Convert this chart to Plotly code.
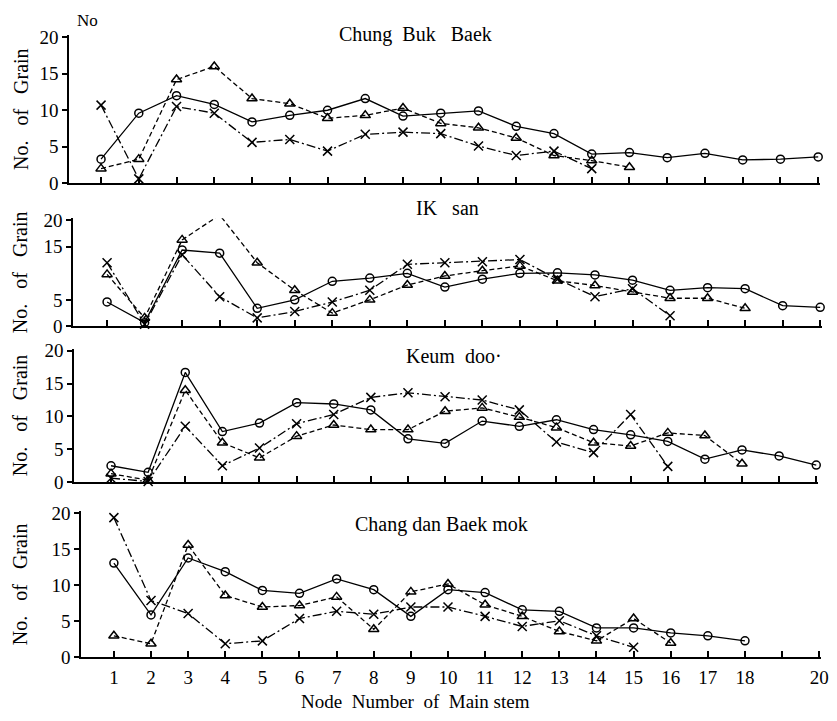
import plotly.graph_objects as go

nodes = list(range(1, 21))
NB = "\u00a0"
panel_titles = ["Chung" + NB * 2 + "Buk" + NB * 3 + "Baek", "IK" + NB * 3 + "san",
                "Keum" + NB * 2 + "doo·", "Chang dan Baek mok"]

# circles (solid), triangles (dashed), crosses (dash-dot)
cbb_circle = [3.3, 9.6, 12.0, 10.8, 8.4, 9.3, 10.0, 11.6, 9.2, 9.6, 9.9, 7.8, 6.8, 4.0, 4.2, 3.5, 4.1, 3.2, 3.3, 3.6]
cbb_tri = [2.0, 3.3, 14.2, 16.0, 11.6, 10.9, 8.9, 9.3, 10.3, 8.2, 7.6, 6.2, 3.8, 3.1, 2.2, None, None, None, None, None]
cbb_x = [10.7, 0.6, 10.5, 9.6, 5.6, 6.0, 4.4, 6.7, 7.0, 6.8, 5.1, 3.8, 4.4, 2.0, None, None, None, None, None, None]

iks_circle = [4.6, 0.7, 14.4, 13.8, 3.4, 5.0, 8.5, 9.1, 10.0, 7.4, 8.9, 10.0, 10.1, 9.7, 8.7, 6.8, 7.3, 7.1, 3.9, 3.6]
iks_tri = [9.8, 1.6, 16.3, 21.0, 12.0, 6.8, 2.5, 5.0, 7.8, 9.5, 10.5, 11.4, 8.6, 7.7, 6.5, 5.3, 5.3, 3.4, None, None]
iks_x = [12.0, 0.4, 13.5, 5.6, 1.6, 2.8, 4.6, 6.8, 11.7, 12.0, 12.2, 12.6, 8.9, 5.6, 7.1, 2.0, None, None, None, None]

kd_circle = [2.5, 1.5, 16.7, 7.7, 9.0, 12.1, 11.9, 11.0, 6.6, 5.9, 9.3, 8.5, 9.5, 8.0, 7.2, 6.2, 3.5, 4.9, 4.0, 2.6]
kd_tri = [1.3, 0.3, 14.0, 6.0, 3.7, 7.0, 8.7, 8.0, 8.0, 10.8, 11.3, 9.9, 8.3, 6.0, 5.5, 7.5, 7.1, 2.8, None, None]
kd_x = [0.6, 0.1, 8.5, 2.5, 5.2, 8.9, 10.3, 12.9, 13.6, 13.0, 12.5, 11.0, 6.1, 4.5, 10.3, 2.4, None, None, None, None]

cdb_circle = [13.1, 5.9, 13.8, 11.9, 9.3, 8.9, 10.9, 9.4, 5.7, 9.4, 9.0, 6.6, 6.4, 4.1, 4.1, 3.4, 3.0, 2.3, None, None]
cdb_tri = [3.0, 1.9, 15.6, 8.6, 7.0, 7.2, 8.4, 3.9, 9.1, 10.2, 7.3, 5.7, 3.6, 2.3, 5.4, 2.0, None, None, None, None]
cdb_x = [19.4, 7.9, 6.1, 1.9, 2.3, 5.4, 6.4, 6.0, 7.0, 7.0, 5.7, 4.3, 5.1, 3.0, 1.4, None, None, None, None, None]

panels = [
    (cbb_circle, cbb_tri, cbb_x),
    (iks_circle, iks_tri, iks_x),
    (kd_circle, kd_tri, kd_x),
    (cdb_circle, cdb_tri, cdb_x),
]
ytick_vals = [[0, 5, 10, 15, 20], [0, 5, 15, 20], [0, 5, 10, 15, 20], [0, 5, 10, 15, 20]]
x_tick_text = [str(n) for n in range(1, 19)] + ["", "20"]

W, H = 837, 721
# pixel geometry of each panel: (x_left, x_right, y_top, y_bottom, xmin, xmax, ymax)
geom = [
    (70, 828, 28, 180, 0.16, 20.05, 20.27),
    (74, 830, 216, 327, 0.10, 20.05, 20.37),
    (75, 826, 350, 487, 0.01, 20.05, 20.3),
    (82, 829, 517, 667, 0.12, 20.05, 20.27),
]

FONT = "Liberation Serif"
fig = go.Figure()
styles = [
    dict(symbol="circle-open", size=8, dash="solid"),
    dict(symbol="triangle-up-open", size=9, dash="5px,3px"),
    dict(symbol="x-thin-open", size=9, dash="9px,3px,2px,3px"),
]
for i, series in enumerate(panels):
    xa = "x" if i == 0 else f"x{i+1}"
    ya = "y" if i == 0 else f"y{i+1}"
    for vals, st in zip(series, styles):
        fig.add_trace(go.Scatter(
            x=nodes, y=vals, xaxis=xa, yaxis=ya, mode="lines+markers",
            line=dict(color="black", width=1.3, dash=st["dash"]),
            marker=dict(symbol=st["symbol"], size=st["size"], color="black",
                        line=dict(color="black", width=1.5)),
            cliponaxis=False, showlegend=False, connectgaps=False,
        ))

layout = dict(
    width=W, height=H, margin=dict(l=0, r=0, t=0, b=0),
    paper_bgcolor="white", plot_bgcolor="rgba(0,0,0,0)",
    font=dict(family=FONT, color="black", size=16),
)
ylab = "No." + NB * 3 + "of" + NB * 3 + "Grain"
annotations = []
for i, (xl, xr, yt, yb, xmin, xmax, ymax) in enumerate(geom):
    xk = "xaxis" if i == 0 else f"xaxis{i+1}"
    yk = "yaxis" if i == 0 else f"yaxis{i+1}"
    last = i == 3
    layout[xk] = dict(
        domain=[xl / W, xr / W], range=[xmin, xmax], anchor="y" if i == 0 else f"y{i+1}",
        showline=True, linecolor="black", linewidth=2, showgrid=False, zeroline=False,
        ticks="inside", ticklen=6, tickwidth=1.5, tickcolor="black",
        tickvals=nodes, ticktext=x_tick_text if last else [""] * 20,
        showticklabels=last, tickfont=dict(family=FONT, size=19),
        ticklabelstandoff=2, ticklabeloverflow="allow",
    )
    layout[yk] = dict(
        domain=[1 - yb / H, 1 - yt / H], range=[0, ymax], anchor="x" if i == 0 else f"x{i+1}",
        showline=True, linecolor="black", linewidth=2, showgrid=False, zeroline=False,
        ticks="outside", ticklen=5, tickwidth=1.5, tickcolor="black",
        tickvals=ytick_vals[i], tickfont=dict(family=FONT, size=19),
    )
    annotations.append(dict(
        x=21 / W, y=1 - (yt + yb) / 2 / H, xref="paper", yref="paper",
        xanchor="center", yanchor="middle",
        text=ylab, textangle=-90, showarrow=False,
        font=dict(family=FONT, size=20),
    ))

title_pos = [(420, 27), (452, 205), (458, 357), (446, 530)]
for t, (px, py) in zip(panel_titles, title_pos):
    annotations.append(dict(x=px / W, y=1 - py / H, xref="paper", yref="paper",
                            xanchor="center", yanchor="middle",
                            text=t, showarrow=False, font=dict(family=FONT, size=20)))
annotations.append(dict(x=88 / W, y=1 - 13 / H, xref="paper", yref="paper",
                        xanchor="center", yanchor="middle",
                        text="No", showarrow=False, font=dict(family=FONT, size=17)))
annotations.append(dict(x=420 / W, y=1 - 712 / H, xref="paper", yref="paper",
                        xanchor="center", yanchor="middle",
                        text="Node" + NB * 2 + "Number" + NB * 2 + "of" + NB * 2 + "Main stem",
                        showarrow=False, font=dict(family=FONT, size=19)))
layout["annotations"] = annotations
fig.update_layout(**layout)
fig.write_html("out.html")
